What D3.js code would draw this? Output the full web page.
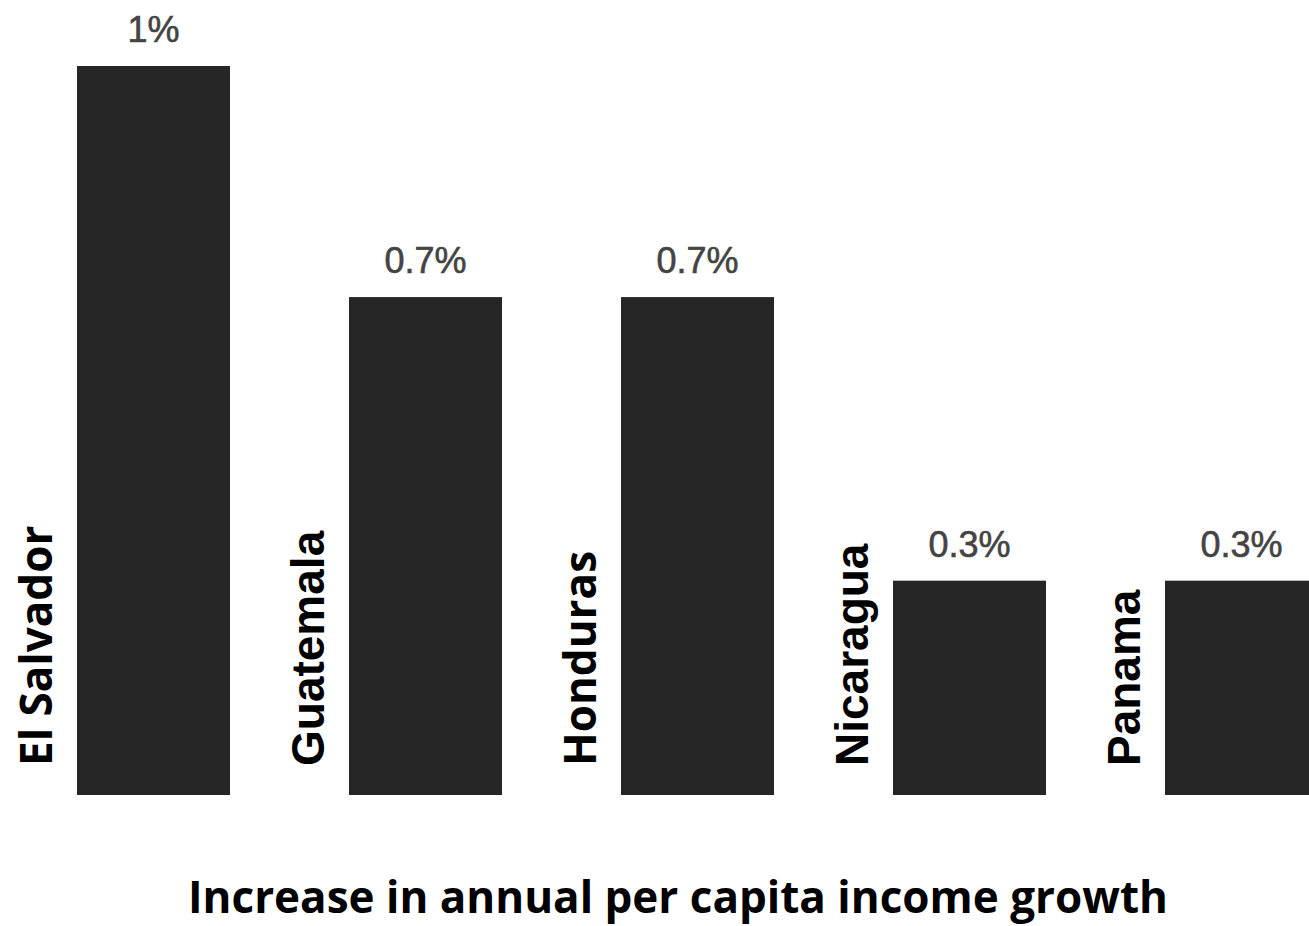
<!DOCTYPE html>
<html>
<head>
<meta charset="utf-8">
<script src="https://cdn.jsdelivr.net/npm/d3@7"></script>
<style>
  body { margin: 0; background: #fff; }
  svg { display: block; overflow: hidden; }
</style>
</head>
<body>
<script>
// chart data
var countries = ["El Salvador", "Guatemala", "Honduras", "Nicaragua", "Panama"];
var growth = [1.0, 0.683, 0.683, 0.294, 0.294];
var valueLabels = ["1%", "0.7%", "0.7%", "0.3%", "0.3%"];
var title = "Increase in annual per capita income growth";

var w = 1309,
    h = 926;

// the source mixes two faces for the country names
var humanistFont = "'Open Sans', 'Noto Sans', sans-serif";
var grotesqueFont = "'Liberation Sans', Arial, sans-serif";
var humanistNames = ["El Salvador", "Honduras"];

var svg = d3.select("body").append("svg")
    .attr("width", w)
    .attr("height", h);

var x = d3.scaleBand()
    .domain(countries)
    .range([77, 1318])
    .paddingInner(0.4375)
    .paddingOuter(0);

var y = d3.scaleLinear()
    .domain([0, 1])
    .range([795, 66]);

var data = countries.map(function(c, i) {
  return { name: c, value: growth[i], label: valueLabels[i] };
});

// bars
svg.selectAll("rect.bar")
  .data(data)
  .enter().append("rect")
    .attr("class", "bar")
    .attr("x", function(d) { return x(d.name); })
    .attr("y", function(d) { return y(d.value); })
    .attr("width", x.bandwidth())
    .attr("height", function(d) { return y(0) - y(d.value); })
    .attr("fill", "#262626");

// value labels above bars
svg.selectAll("text.val")
  .data(data)
  .enter().append("text")
    .attr("class", "val")
    .attr("x", function(d) { return x(d.name) + x.bandwidth() / 2; })
    .attr("y", function(d) { return y(d.value) - 24; })
    .attr("text-anchor", "middle")
    .style("font-family", grotesqueFont)
    .style("font-size", "36px")
    .style("fill", "#444444")
    .style("stroke", "#444444")
    .style("stroke-width", "0.6px")
    .text(function(d) { return d.label; });

// rotated country names left of each bar
svg.selectAll("text.cat")
  .data(data)
  .enter().append("text")
    .attr("class", "cat")
    .attr("transform", function(d) {
      return "translate(" + (x(d.name) - 25) + ",766) rotate(-90)";
    })
    .attr("text-anchor", "start")
    .style("font-family", function(d) {
      return humanistNames.indexOf(d.name) >= 0 ? humanistFont : grotesqueFont;
    })
    .style("font-weight", "bold")
    .style("font-size", function(d) {
      return humanistNames.indexOf(d.name) >= 0 ? "44px" : "46px";
    })
    .style("fill", "#000")
    .text(function(d) { return d.name; });

// axis title
svg.append("text")
  .attr("x", 678)
  .attr("y", 913)
  .attr("text-anchor", "middle")
  .style("font-family", humanistFont)
  .style("font-weight", "bold")
  .style("font-size", "44px")
  .style("fill", "#000")
  .text(title);
</script>
</body>
</html>
